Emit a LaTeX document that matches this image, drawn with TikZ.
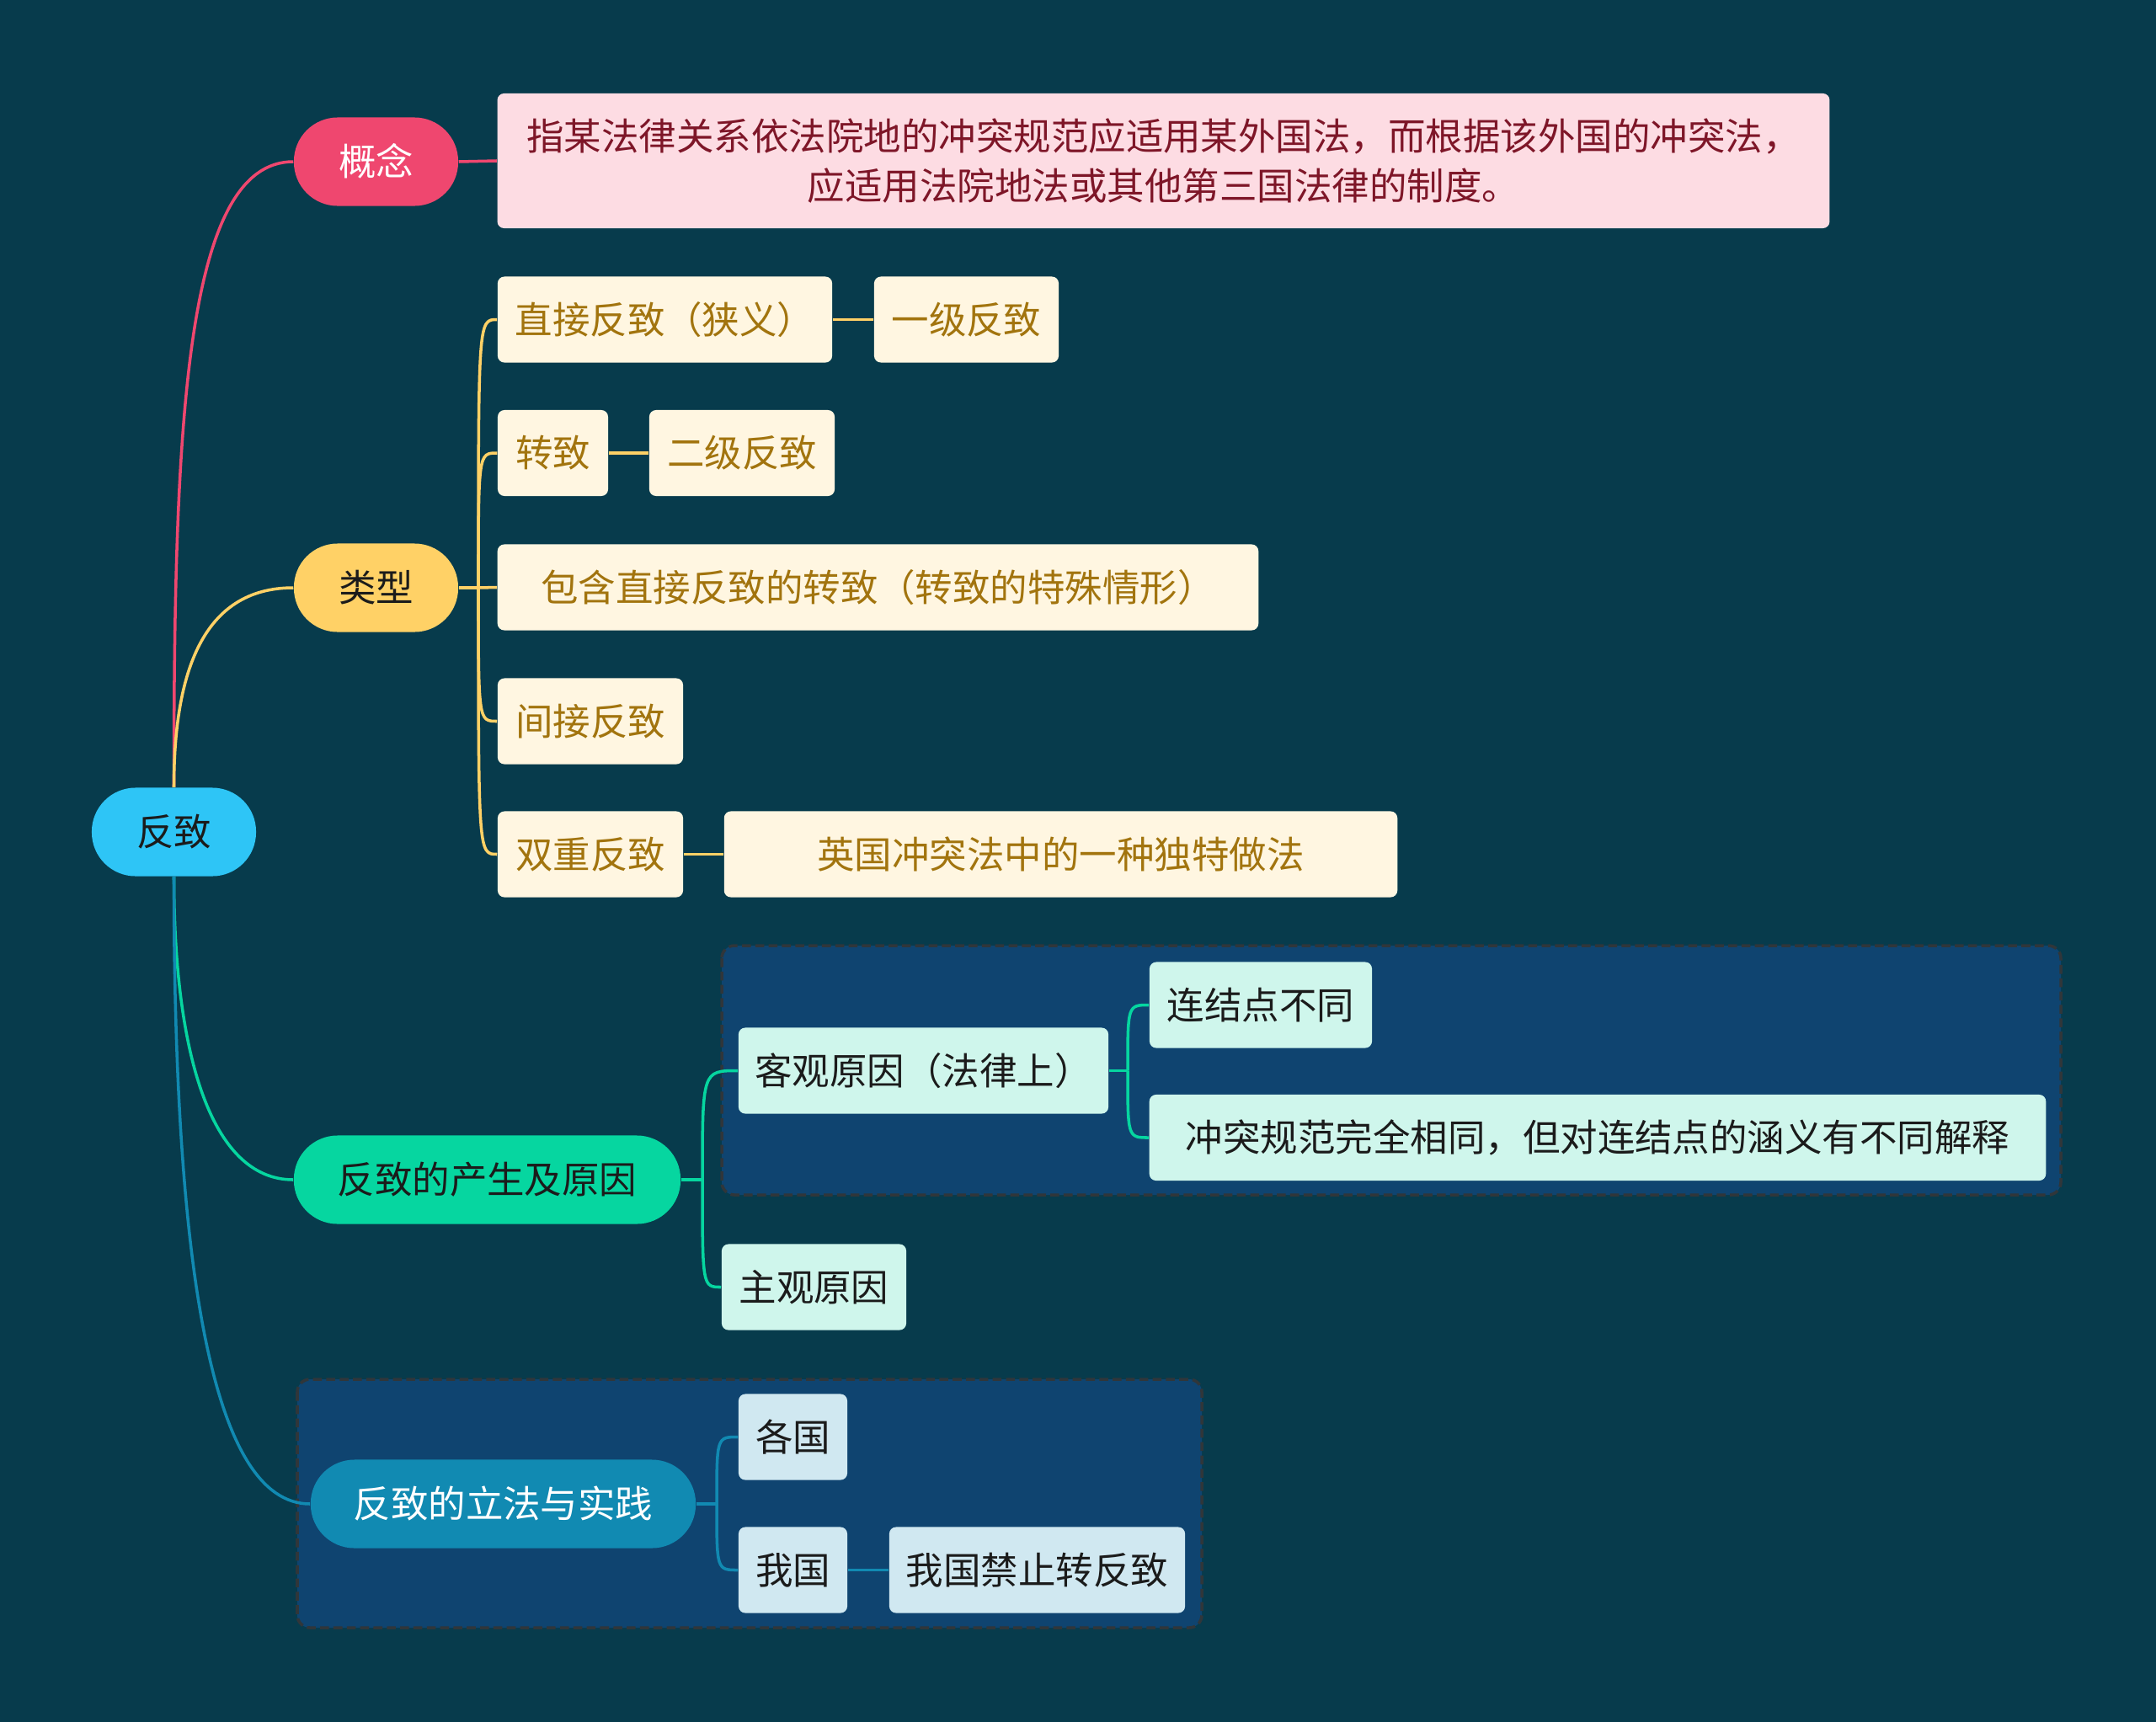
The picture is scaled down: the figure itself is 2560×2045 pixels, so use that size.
\documentclass[tikz,border=0pt]{standalone}
\usepackage{fontspec}
\newfontfamily\cjk{Noto Sans CJK SC}
\definecolor{bg}{HTML}{073B4C}
\definecolor{cpink}{HTML}{EF476F}
\definecolor{cyellow}{HTML}{FFD166}
\definecolor{cgreen}{HTML}{06D6A0}
\definecolor{cblue}{HTML}{118AB2}
\definecolor{croot}{HTML}{2EC5F6}
\definecolor{defill}{HTML}{FDDCE3}
\definecolor{detext}{HTML}{7E1628}
\definecolor{crfill}{HTML}{FFF6E1}
\definecolor{crtext}{HTML}{A2740E}
\definecolor{mint}{HTML}{CFF6EC}
\definecolor{lblue}{HTML}{D0E8F1}
\definecolor{darktext}{HTML}{1B1B1B}
\definecolor{bndfill}{HTML}{0F4470}
\definecolor{bnddraw}{HTML}{30363A}
\tikzset{
  base/.style={font=\cjk\fontsize{12.65}{16.8}\selectfont, inner sep=0pt, align=center,
    text height=10.4pt, text depth=0.75pt},
  pill/.style={base, rounded corners=0.52cm, minimum height=1.05cm},
  card/.style={base, rounded corners=0.08cm, minimum height=1.02cm},
  crcard/.style={card, fill=crfill, text=crtext},
  mintcard/.style={card, fill=mint, text=darktext},
  bluecard/.style={card, fill=lblue, text=darktext},
  bnd/.style={fill=bndfill, draw=bnddraw, line width=1pt, dash pattern=on 3pt off 1.5pt, rounded corners=0.15cm},
  link/.style={line width=1pt},
}
\begin{document}
\begin{tikzpicture}[x=0.01cm,y=-0.01cm]
\fill[bg] (0,0) rectangle (2560,2045);
\useasboundingbox (0,0) rectangle (2560,2045);

% boundaries
\path[bnd] (857,1123) rectangle (2447,1419);
\path[bnd] (353,1638) rectangle (1427,1933);

% nodes
\node[pill, fill=croot, text=darktext, minimum width=1.95cm] (root) at (206.5,988) {反致};
\node[pill, fill=cpink, text=white, minimum width=1.95cm] (gn) at (446.5,192) {概念};
\node[base, rounded corners=0.08cm, fill=defill, text=detext, minimum width=15.81cm, minimum height=1.6cm, text height=, text depth=] (def) at (1381.5,191)
  {指某法律关系依法院地的冲突规范应适用某外国法，而根据该外国的冲突法，\\应适用法院地法或其他第三国法律的制度。};
\node[pill, fill=cyellow, text=darktext, minimum width=1.95cm] (lx) at (446.5,698) {类型};
\node[crcard, minimum width=3.97cm] (t1) at (789.5,379.5) {直接反致（狭义）};
\node[crcard, minimum width=2.19cm] (t1a) at (1147.5,379.5) {一级反致};
\node[crcard, minimum width=1.31cm] (t2) at (656.5,538) {转致};
\node[crcard, minimum width=2.2cm] (t2a) at (881,538) {二级反致};
\node[crcard, minimum width=9.03cm] (t3) at (1042.5,697.5) {包含直接反致的转致（转致的特殊情形）};
\node[crcard, minimum width=2.2cm] (t4) at (701,856.5) {间接反致};
\node[crcard, minimum width=2.2cm] (t5) at (701,1014.5) {双重反致};
\node[crcard, minimum width=7.99cm] (t5a) at (1259.5,1014.5) {英国冲突法中的一种独特做法};

\node[pill, fill=cgreen, text=darktext, minimum width=4.59cm] (cs) at (578.5,1401) {反致的产生及原因};
\node[mintcard, minimum width=4.39cm] (kg) at (1096.5,1271.5) {客观原因（法律上）};
\node[mintcard, minimum width=2.64cm] (lj) at (1497,1193.5) {连结点不同};
\node[mintcard, minimum width=10.64cm] (ct) at (1897,1351) {冲突规范完全相同，但对连结点的涵义有不同解释};
\node[mintcard, minimum width=2.19cm] (zg) at (966.5,1528.5) {主观原因};

\node[pill, fill=cblue, text=white, minimum width=4.57cm] (lf) at (597.5,1786) {反致的立法与实践};
\node[bluecard, minimum width=1.29cm] (gg) at (941.5,1706.5) {各国};
\node[bluecard, minimum width=1.29cm] (wg) at (941.5,1864.5) {我国};
\node[bluecard, minimum width=3.51cm] (jz) at (1231.5,1864.5) {我国禁止转反致};

% root connectors
\draw[link, cpink] (root.north) .. controls (206.5,500) and (220,192) .. (gn.west);
\draw[link, cyellow] (root.north) .. controls (206.5,800) and (240,698) .. (lx.west);
\draw[link, cgreen] (root.south) .. controls (206.5,1250) and (250,1401) .. (cs.west);
\draw[link, cblue] (root.south) .. controls (206.5,1500) and (250,1786) .. (lf.west);

% concept
\draw[link, cpink] (gn.east) -- (def.west);

% types
\coordinate (lxt) at (568,698);
\draw[link, cyellow] (lx.east) -- (lxt);
\foreach \c in {t1,t2,t4,t5}{
  \draw[link, cyellow] (lxt) .. controls (lxt |- \c.west) and (lxt |- \c.west) .. (\c.west);
}
\draw[link, cyellow] (lxt) -- (t3.west);
\draw[link, cyellow] (t1.east) -- (t1a.west);
\draw[link, cyellow] (t2.east) -- (t2a.west);
\draw[link, cyellow] (t5.east) -- (t5a.west);

% causes
\coordinate (cst) at (834,1401);
\draw[link, cgreen] (cs.east) -- (cst);
\foreach \c in {kg,zg}{
  \draw[link, cgreen] (cst) .. controls (cst |- \c.west) and (cst |- \c.west) .. (\c.west);
}
\coordinate (kgt) at (1339,1271.5);
\draw[link, cgreen] (kg.east) -- (kgt);
\foreach \c in {lj,ct}{
  \draw[link, cgreen] (kgt) .. controls (kgt |- \c.west) and (kgt |- \c.west) .. (\c.west);
}

% legislation
\coordinate (lft) at (851,1786);
\draw[link, cblue] (lf.east) -- (lft);
\foreach \c in {gg,wg}{
  \draw[link, cblue] (lft) .. controls (lft |- \c.west) and (lft |- \c.west) .. (\c.west);
}
\draw[link, cblue] (wg.east) -- (jz.west);
\end{tikzpicture}
\end{document}
